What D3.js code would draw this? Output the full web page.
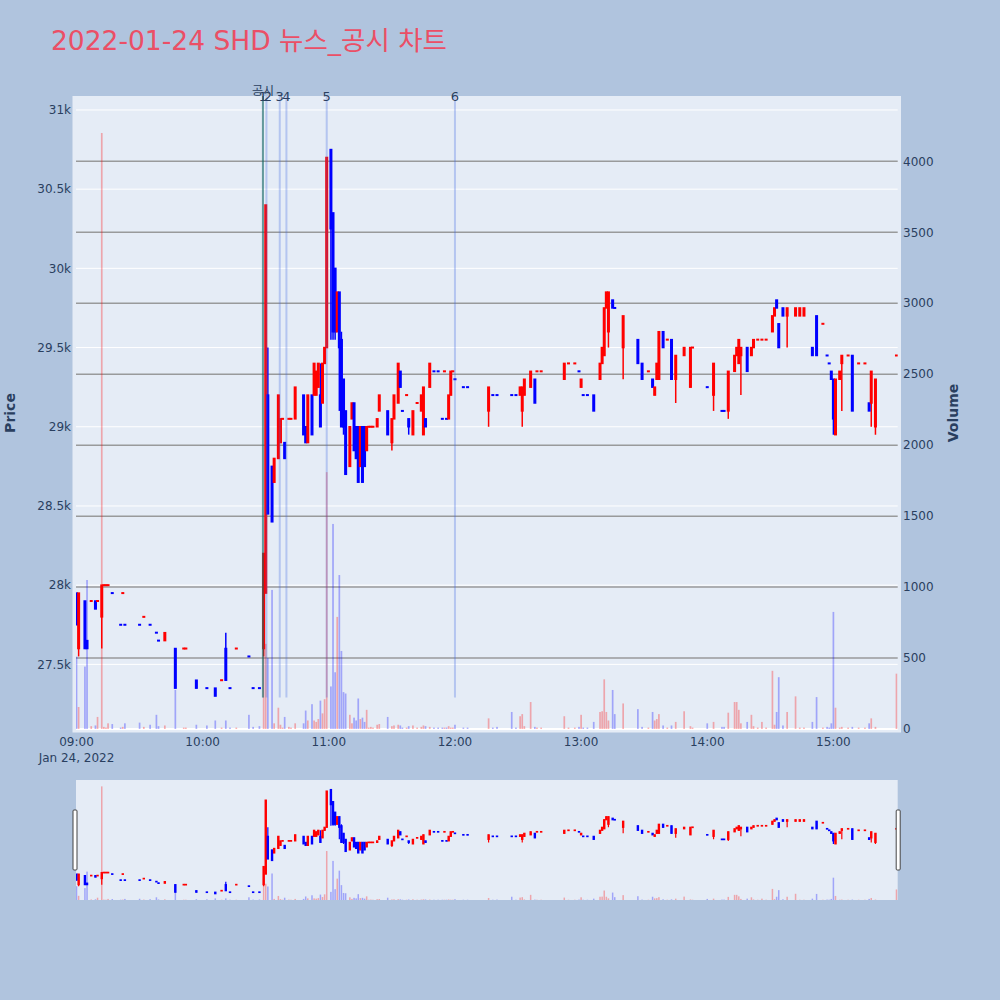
<!DOCTYPE html>
<html><head><meta charset="utf-8">
<script src="https://cdn.jsdelivr.net/npm/d3@7"></script>
<style>body{margin:0;background:#b0c4de}svg{display:block}</style>
</head><body><svg id="c" width="1000" height="1000"></svg>
<script>
// ---------------- DATA ----------------
const times = ["09:00","09:01","09:04","09:05","09:07","09:09","09:10","09:12","09:13","09:14","09:15","09:17","09:21","09:22","09:23","09:30","09:32","09:35","09:38","09:39","09:42","09:47","09:51","09:52","09:57","10:02","10:06","10:09","10:11","10:13","10:16","10:22","10:24","10:27","10:29","10:30","10:31","10:33","10:34","10:36","10:37","10:38","10:39","10:41","10:42","10:44","10:48","10:49","10:50","10:52","10:53","10:54","10:55","10:56","10:57","10:58","10:59","11:01","11:02","11:03","11:04","11:05","11:06","11:07","11:08","11:10","11:11","11:12","11:13","11:14","11:15","11:16","11:17","11:18","11:19","11:20","11:21","11:23","11:24","11:28","11:30","11:31","11:33","11:34","11:35","11:37","11:38","11:40","11:42","11:44","11:45","11:46","11:48","11:50","11:52","11:54","11:55","11:56","11:57","11:58","11:59","12:00","12:04","12:06","12:16","12:18","12:20","12:27","12:29","12:31","12:32","12:33","12:36","12:38","12:39","12:41","12:52","12:54","12:57","12:59","13:00","13:01","13:03","13:06","13:09","13:10","13:11","13:12","13:13","13:15","13:16","13:20","13:27","13:29","13:32","13:34","13:35","13:36","13:37","13:39","13:41","13:43","13:45","13:49","13:52","13:53","14:00","14:03","14:07","14:08","14:10","14:13","14:14","14:15","14:16","14:19","14:21","14:22","14:24","14:26","14:28","14:31","14:32","14:33","14:34","14:36","14:38","14:42","14:44","14:46","14:50","14:52","14:55","14:57","14:58","14:59","15:00","15:01","15:03","15:04","15:07","15:09","15:12","15:15","15:17","15:18","15:20","15:30"];
const opens = [27950,27600,27900,27650,27900,27900,27900,27800,28000,28000,28000,27950,27750,27950,27750,27750,27800,27750,27700,27650,27650,27600,27600,27600,27400,27350,27350,27400,27600,27350,27600,27550,27350,27350,27600,27950,29200,28750,28650,28800,28900,29050,28900,29050,29050,29050,29200,29000,28900,29200,29200,29200,29250,29200,29150,29400,29500,30750,30350,30000,29600,29850,29550,29300,29100,28750,29050,29150,29000,29000,28750,29000,29000,28850,29000,29000,29000,29000,29100,29100,28900,29050,29150,29350,29100,29200,29050,28950,29150,29100,28950,29050,29250,29350,29350,29050,29350,29050,29050,29200,29350,29300,29250,29250,29100,29200,29200,29200,29200,29200,29100,29200,29250,29300,29350,29350,29300,29400,29400,29350,29250,29200,29200,29200,29300,29400,29450,29750,29600,29800,29750,29500,29550,29400,29350,29300,29200,29300,29300,29600,29550,29550,29300,29450,29250,29500,29250,29200,29100,29100,29100,29350,29450,29400,29450,29500,29450,29500,29550,29550,29550,29600,29700,29800,29650,29750,29700,29700,29700,29700,29500,29700,29650,29450,29400,29350,29300,28950,29300,29400,29450,29450,29400,29400,29150,29150,29000,29450];
const highs = [27950,27950,27900,27650,27900,27900,27900,28000,28000,28000,28000,27950,27750,27950,27750,27750,27800,27750,27700,27650,27700,27600,27600,27600,27400,27350,27350,27400,27700,27350,27600,27550,27350,27350,28200,30400,29500,28750,28800,29200,29050,29050,28900,29050,29050,29250,29200,29000,29200,29200,29400,29350,29400,29400,29400,29500,30700,30750,30350,30000,29850,29850,29600,29300,29100,29000,29150,29150,29000,29000,29000,29000,29000,29000,29000,29000,29000,29050,29200,29100,29050,29200,29400,29350,29100,29200,29050,29100,29150,29200,29250,29050,29400,29350,29350,29050,29350,29050,29200,29350,29350,29300,29250,29250,29250,29200,29200,29200,29200,29250,29250,29300,29350,29300,29350,29350,29400,29400,29400,29350,29300,29200,29200,29200,29400,29500,29750,29850,29850,29800,29750,29700,29550,29400,29350,29300,29250,29400,29600,29600,29550,29550,29450,29500,29500,29500,29250,29400,29100,29100,29350,29450,29500,29550,29500,29500,29500,29550,29550,29550,29550,29700,29750,29800,29650,29750,29750,29750,29750,29750,29500,29700,29650,29450,29400,29350,29300,29300,29350,29450,29450,29450,29400,29400,29150,29350,29300,29450];
const lows = [27750,27550,27600,27600,27900,27850,27900,27600,28000,28000,28000,27950,27750,27950,27750,27750,27800,27750,27700,27650,27650,27350,27600,27600,27350,27350,27300,27400,27400,27350,27600,27550,27350,27350,27550,27950,28450,28400,28650,28800,28900,29050,28800,29050,29050,29050,28950,28900,28900,28950,29200,29200,29250,29000,29150,29400,29500,29550,29550,29550,29600,29100,29000,28950,28700,28750,29050,28850,28800,28650,28750,28650,28750,28850,29000,29000,29000,29000,29100,28950,28850,29050,29150,29250,29100,29200,28950,28950,29150,29100,28950,29000,29250,29350,29350,29050,29350,29050,29050,29200,29350,29300,29250,29250,29000,29200,29200,29200,29200,29200,29000,29200,29250,29150,29350,29350,29300,29400,29400,29350,29250,29200,29200,29100,29300,29400,29450,29750,29500,29750,29750,29300,29400,29300,29350,29250,29200,29300,29300,29500,29550,29300,29150,29450,29250,29500,29250,29100,29100,29100,29050,29350,29450,29400,29200,29350,29450,29500,29550,29550,29550,29600,29700,29750,29500,29700,29500,29700,29700,29700,29450,29450,29650,29450,29400,29300,28950,28950,29300,29100,29450,29100,29400,29400,29100,29000,28950,29450];
const closes = [27750,27950,27600,27600,27900,27850,27900,28000,28000,28000,28000,27950,27750,27950,27750,27750,27800,27750,27700,27650,27700,27350,27600,27600,27350,27350,27300,27400,27400,27350,27600,27550,27350,27350,28200,30400,28450,28400,28800,29200,29050,29050,28800,29050,29050,29250,28950,28900,29200,28950,29400,29350,29400,29000,29400,29500,30700,30250,29600,29600,29850,29500,29000,29000,28700,29000,29150,28850,28800,28650,29000,28650,28750,29000,29000,29000,29000,29050,29200,28950,29050,29200,29400,29250,29100,29200,29000,29100,29150,29200,29250,29000,29400,29350,29350,29050,29350,29050,29200,29350,29350,29300,29250,29250,29250,29200,29200,29200,29200,29250,29250,29300,29350,29150,29350,29350,29400,29400,29400,29350,29300,29200,29200,29100,29400,29500,29750,29850,29850,29750,29750,29700,29400,29300,29350,29250,29250,29400,29600,29500,29550,29300,29450,29500,29500,29500,29250,29400,29100,29100,29350,29450,29500,29550,29500,29350,29500,29550,29550,29550,29550,29700,29750,29750,29500,29700,29750,29750,29750,29750,29450,29450,29650,29450,29400,29300,29050,29300,29350,29450,29450,29100,29400,29400,29100,29350,29300,29450];
const volumes = [510,155,440,1050,20,25,85,4200,15,10,40,35,10,15,40,45,15,30,100,20,25,275,10,10,30,25,60,10,60,10,10,100,15,20,800,600,500,980,40,150,30,10,85,15,10,40,40,130,60,175,60,50,70,200,110,210,1810,300,1445,400,790,1085,550,260,250,100,40,80,60,215,70,80,50,135,10,15,10,30,35,85,20,25,30,25,10,10,20,25,10,15,25,20,15,10,10,10,10,10,20,10,10,30,10,10,75,10,15,120,10,90,105,20,190,15,10,10,90,10,10,15,100,10,10,50,120,125,350,120,60,275,105,180,140,15,10,120,60,70,105,25,10,25,50,125,20,10,40,50,15,15,115,190,190,135,40,50,100,20,10,50,10,410,30,120,365,25,120,230,10,10,50,225,10,15,10,40,825,150,10,15,10,15,10,10,40,75,15,390];

const newsTimes = ["10:28:40","10:30:20","10:36:40","10:39:50","10:59:00","12:00:00"];
const newsLabels = ["1","2","3","4","5","6"];
const disclosureTimes = ["10:28:40"];
const disclosureLabels = ["공시"];

const priceTicks = [27500,28000,28500,29000,29500,30000,30500,31000];
const priceTickLabels = ["27.5k","28k","28.5k","29k","29.5k","30k","30.5k","31k"];
const volumeTicks = [0,500,1000,1500,2000,2500,3000,3500,4000];
const timeTicks = ["09:00","10:00","11:00","12:00","13:00","14:00","15:00"];

const titleText = "2022-01-24 SHD 뉴스_공시 차트";
const dateLabel = "Jan 24, 2022";

// ---------------- LAYOUT ----------------
const svg = d3.select("#c");
const FONT = "'DejaVu Sans', Verdana, 'Noto Sans CJK KR', sans-serif";
const TXT = "#2a3f5f";
const L = 76, R = 897.7, T = 99.5, B = 729;        // main plot area
const SL_T = 780, SL_B = 900;                        // range slider
const day = "2022-01-24 ";
const pT = d3.timeParse("%Y-%m-%d %H:%M");
const pTs = d3.timeParse("%Y-%m-%d %H:%M:%S");

const x = d3.scaleTime().domain([pTs(day+"08:59:45"), pTs(day+"15:30:35")]).range([L, R]);
const yP = d3.scaleLinear().domain([27092, 31066]).range([B, T]);
const yV = d3.scaleLinear().domain([0, 4436]).range([B, T]);
const yPs = yP.copy().range([SL_B, SL_T]);
const yVs = yV.copy().range([SL_B, SL_T]);

const data = times.map((t, i) => ({t: pT(day+t), o: opens[i], h: highs[i], l: lows[i], c: closes[i], v: volumes[i]}));
let prevC = null, prevUp = true;
data.forEach(d => {
  let up;
  if (d.c > d.o) up = true;
  else if (d.c < d.o) up = false;
  else if (prevC !== null && d.c !== prevC) up = d.c > prevC;
  else up = prevUp;
  d.up = up; prevUp = up; prevC = d.c;
});

svg.append("rect").attr("width", 1000).attr("height", 1000).attr("fill", "#b0c4de");
svg.append("rect").attr("x", 72.5).attr("y", 96).attr("width", 901 - 72.5).attr("height", 732.5 - 96).attr("fill", "#e5ecf6");

const defs = svg.append("defs");
defs.append("clipPath").attr("id", "clipMain").append("rect").attr("x", L).attr("y", T).attr("width", R - L).attr("height", B - T);
defs.append("clipPath").attr("id", "clipSl").append("rect").attr("x", L).attr("y", SL_T).attr("width", R - L).attr("height", SL_B - SL_T);

// grid
const grid = svg.append("g");
grid.selectAll(".pg").data(priceTicks).join("line")
  .attr("x1", L).attr("x2", R).attr("y1", d => yP(d)).attr("y2", d => yP(d))
  .attr("stroke", "#fff").attr("stroke-width", 1);
grid.selectAll(".vg").data(volumeTicks.filter(v => v > 0)).join("line")
  .attr("x1", L).attr("x2", R).attr("y1", d => yV(d)).attr("y2", d => yV(d))
  .attr("stroke", "#8c8c8c").attr("stroke-width", 1.5).attr("opacity", 0.85);
grid.append("line").attr("x1", L).attr("x2", R).attr("y1", yV(0)).attr("y2", yV(0)).attr("stroke", "#fff").attr("stroke-width", 2);

function drawTraces(g, yPx, yVx, barW, bodyW, lw) {
  g.selectAll(".vb").data(data).join("rect")
    .attr("x", d => x(d.t) - barW / 2).attr("width", barW)
    .attr("y", d => yVx(d.v)).attr("height", d => yVx(0) - yVx(d.v))
    .attr("fill", d => d.up ? "rgba(255,0,0,0.3)" : "rgba(0,0,255,0.3)");
  g.selectAll(".wk").data(data).join("line")
    .attr("x1", d => x(d.t)).attr("x2", d => x(d.t))
    .attr("y1", d => yPx(d.h)).attr("y2", d => yPx(d.l))
    .attr("stroke", d => d.up ? "#ff0000" : "#0000ff").attr("stroke-width", lw);
  g.selectAll(".bd").data(data).join("rect")
    .attr("x", d => x(d.t) - bodyW / 2).attr("width", bodyW)
    .attr("y", d => yPx(Math.max(d.o, d.c)) - (d.o === d.c ? 0.25 : 0))
    .attr("height", d => Math.max(Math.abs(yPx(d.o) - yPx(d.c)), 0.5))
    .attr("fill", d => d.up ? "#ff0000" : "#0000ff")
    .attr("stroke", d => d.up ? "#ff0000" : "#0000ff").attr("stroke-width", lw);
}

const main = svg.append("g").attr("clip-path", "url(#clipMain)");
drawTraces(main, yP, yV, 1.7, 1.5, 1.5);

// news lines
const newsG = svg.append("g");
const lineBottom = B - 0.05 * (B - T);
newsG.selectAll(".nl").data(newsTimes).join("line")
  .attr("x1", d => x(pTs(day+d))).attr("x2", d => x(pTs(day+d)))
  .attr("y1", 96).attr("y2", lineBottom)
  .attr("stroke", "rgba(65,105,225,0.3)").attr("stroke-width", 2);
newsG.selectAll(".dl").data(disclosureTimes).join("line")
  .attr("x1", d => x(pTs(day+d))).attr("x2", d => x(pTs(day+d)))
  .attr("y1", 96).attr("y2", lineBottom)
  .attr("stroke", "rgba(0,100,50,0.45)").attr("stroke-width", 2);
newsG.selectAll(".nt").data(newsTimes).join("text")
  .attr("x", (d, i) => x(pTs(day+d)) + (i === 1 ? 1.5 : 0)).attr("y", 101)
  .attr("text-anchor", "middle").attr("font-family", FONT).attr("font-size", 13).attr("fill", TXT)
  .text((d, i) => newsLabels[i]);
newsG.selectAll(".dt").data(disclosureTimes).join("text")
  .attr("x", d => x(pTs(day+d))).attr("y", 95)
  .attr("text-anchor", "middle").attr("font-family", FONT).attr("font-size", 12).attr("fill", TXT)
  .text((d, i) => disclosureLabels[i]);

// axes
const axG = svg.append("g").attr("font-family", FONT).attr("font-size", 12).attr("fill", TXT);
axG.selectAll(".pt").data(priceTicks).join("text")
  .attr("x", 71).attr("y", d => yP(d)).attr("dy", "0.35em").attr("text-anchor", "end")
  .text((d, i) => priceTickLabels[i]);
axG.selectAll(".vt").data(volumeTicks).join("text")
  .attr("x", 903).attr("y", d => yV(d)).attr("dy", "0.35em").attr("text-anchor", "start")
  .text(d => d3.format("d")(d));
axG.selectAll(".xt").data(timeTicks).join("text")
  .attr("x", d => x(pT(day+d))).attr("y", 746).attr("text-anchor", "middle")
  .text(d => d);
axG.append("text").attr("x", x(pT(day+timeTicks[0]))).attr("y", 762).attr("text-anchor", "middle").text(dateLabel);

svg.append("text").attr("transform", "translate(15,413) rotate(-90)").attr("text-anchor", "middle")
  .attr("font-family", FONT).attr("font-size", 14).attr("font-weight", "bold").attr("fill", TXT).text("Price");
svg.append("text").attr("transform", "translate(958,413) rotate(-90)").attr("text-anchor", "middle")
  .attr("font-family", FONT).attr("font-size", 14).attr("font-weight", "bold").attr("fill", TXT).text("Volume");

svg.append("text").attr("x", 51).attr("y", 50).attr("font-family", FONT).attr("font-size", 26.5)
  .attr("fill", "#eb4f66").text(titleText);

// range slider
svg.append("rect").attr("x", L).attr("y", SL_T).attr("width", R - L).attr("height", SL_B - SL_T).attr("fill", "#e5ecf6");
const sl = svg.append("g").attr("clip-path", "url(#clipSl)");
drawTraces(sl, yPs, yVs, 1.5, 1.2, 1.2);
[L - 1, R + 0.5].forEach(hx => {
  svg.append("rect").attr("x", hx - 2).attr("y", 810).attr("width", 4).attr("height", 60)
    .attr("fill", "#fff").attr("stroke", "#444").attr("stroke-width", 1).attr("rx", 1);
});
</script></body></html>
